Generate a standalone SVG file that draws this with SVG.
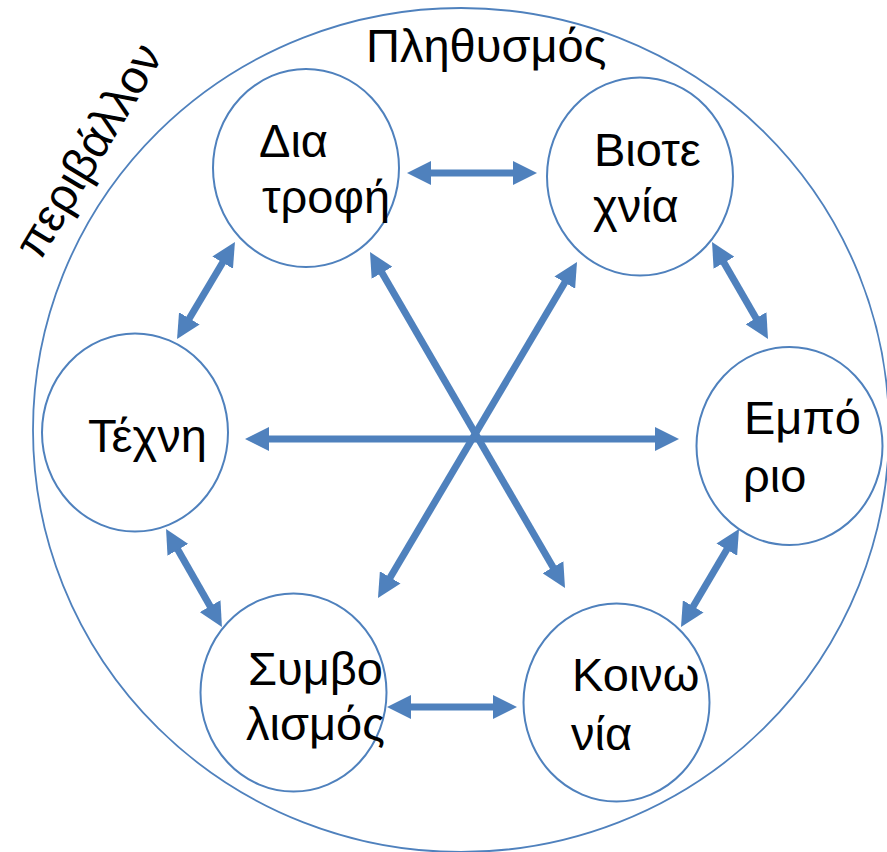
<svg xmlns="http://www.w3.org/2000/svg" width="887" height="852" viewBox="0 0 887 852">
<defs>
<style>
.node{fill:none;stroke:#4F81BD;stroke-width:2}
.outer{fill:none;stroke:#4F81BD;stroke-width:1.8}
.lbl{font-family:"Liberation Sans",Arial,sans-serif;font-size:47px;fill:#000}
.conn line{stroke:#4F81BD;stroke-width:7;marker-start:url(#ah);marker-end:url(#ah)}
</style>
<marker id="ah" markerUnits="userSpaceOnUse" markerWidth="24" markerHeight="24" refX="12" refY="12" orient="auto-start-reverse" viewBox="0 0 24 24">
<path d="M0,0 L24,12 L0,24 z" fill="#4F81BD"/>
</marker>
</defs>
<rect width="887" height="852" fill="#fff"/>
<g id="environment">
<ellipse class="outer" cx="461" cy="430" rx="428" ry="422"/>
<text class="lbl" transform="translate(40,262) rotate(-59)">περιβάλλον</text>
<text class="lbl" x="366" y="62">Πληθυσμός</text>
</g>
<g class="conn" id="connectors">
<line x1="419" y1="173" x2="525" y2="173"/>
<line x1="257" y1="439" x2="667" y2="439"/>
<line x1="399" y1="707" x2="505" y2="707"/>
<line x1="228.8" y1="252.3" x2="183.2" y2="328.7"/>
<line x1="718" y1="252.4" x2="762" y2="328.6"/>
<line x1="172" y1="539.4" x2="216" y2="616.6"/>
<line x1="732.9" y1="539.3" x2="687.1" y2="616.7"/>
<line x1="376" y1="262.4" x2="559" y2="577.6"/>
<line x1="570.9" y1="272.3" x2="384.1" y2="587.7"/>
</g>
<g id="diatrofi">
<ellipse class="node" cx="306" cy="168" rx="93" ry="99"/>
<text class="lbl" x="259" y="157">Δια</text>
<text class="lbl" x="262" y="213">τροφή</text>
</g>
<g id="viotexnia">
<ellipse class="node" cx="640" cy="176.5" rx="93" ry="99"/>
<text class="lbl" x="594" y="166">Βιοτε</text>
<text class="lbl" x="593" y="222">χνία</text>
</g>
<g id="texni">
<ellipse class="node" cx="135" cy="432.5" rx="93" ry="99"/>
<text class="lbl" x="88" y="452">Τέχνη</text>
</g>
<g id="emporio">
<ellipse class="node" cx="789.5" cy="446" rx="93" ry="99"/>
<text class="lbl" x="744" y="434">Εμπό</text>
<text class="lbl" x="743" y="492">ριο</text>
</g>
<g id="symvolismos">
<ellipse class="node" cx="293.5" cy="692.5" rx="93" ry="99"/>
<text class="lbl" x="248" y="685">Συμβο</text>
<text class="lbl" x="246" y="740">λισμός</text>
</g>
<g id="koinonia">
<ellipse class="node" cx="616.5" cy="702.5" rx="93" ry="99"/>
<text class="lbl" x="572" y="691">Κοινω</text>
<text class="lbl" x="571" y="750">νία</text>
</g>
</svg>
